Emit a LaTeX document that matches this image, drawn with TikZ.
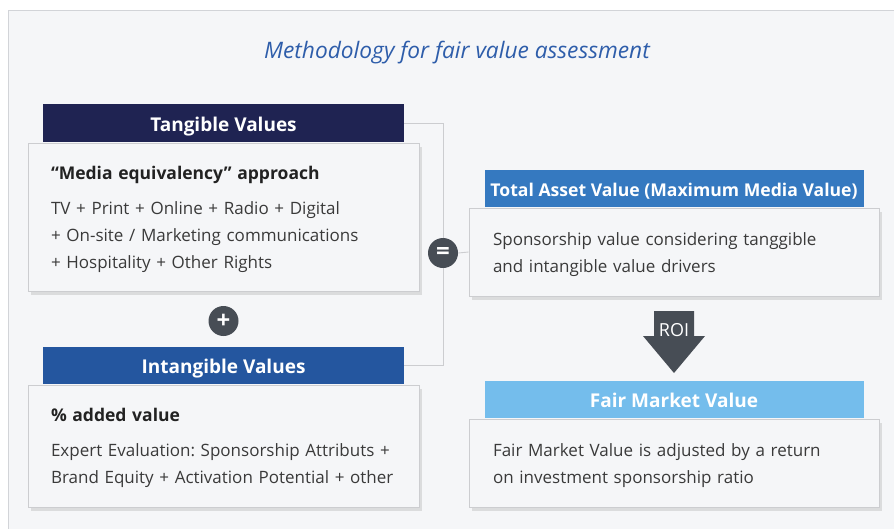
\documentclass[tikz,border=0pt]{standalone}
\usepackage{fontspec}
\setmainfont{Open Sans}
\usetikzlibrary{positioning,shadows}

\definecolor{framefill}{HTML}{F5F6F8}
\definecolor{frameline}{HTML}{D2D4D8}
\definecolor{titleblue}{HTML}{2E5DAA}
\definecolor{navy}{HTML}{1F2352}
\definecolor{midblue}{HTML}{24569F}
\definecolor{brightblue}{HTML}{3579C0}
\definecolor{skyblue}{HTML}{74BDEC}
\definecolor{boxline}{HTML}{CCCDD0}
\definecolor{bodytext}{HTML}{3A3A3A}
\definecolor{headtext}{HTML}{222222}
\definecolor{signfill}{HTML}{474D55}

\newcommand{\topstrut}{\rule{0pt}{18pt}}
\newcommand{\boxhead}[1]{{\topstrut\bfseries\color{headtext}\fontsize{17.5}{27}\selectfont #1}}

\tikzset{
	panel/.style = {draw = boxline, fill = framefill, line width = 0.9pt,
		drop shadow = {shadow xshift = 2.5pt, shadow yshift = -3.5pt, opacity = 0.22},
		align = left, inner xsep = 23pt, inner ysep = 0pt,
		text = bodytext, font = \frenchspacing\fontsize{17}{27}\selectfont},
	header/.style = {fill = #1, text = white, inner sep = 0pt,
		text height = 16pt, text depth = 0pt,
		font = \bfseries\fontsize{19}{19}\selectfont},
	sign/.style = {circle, fill = signfill, text = white, minimum size = 30pt,
		inner sep = 0pt, font = \bfseries\fontsize{24}{24}\selectfont},
	link/.style = {draw = boxline, line width = 0.9pt},
}

\begin{document}
\begin{tikzpicture}[x = 1pt, y = -1pt]
	\useasboundingbox (0, 0) rectangle (894, 528) ;
	\draw [fill = framefill, draw = frameline, line width = 1pt] (8, 10) rectangle (910, 545) ;

	\node [text = titleblue, font = \itshape\fontsize{22.7}{22.7}\selectfont] (title) at (457, 53) {Methodology for fair value assessment} ;

	% left column
	\node [panel, text width = 345pt, minimum width = 391pt, minimum height = 148pt] (tangbox) at (223.5, 217)
		{\boxhead{“Media equivalency” approach}\\[8pt]
		TV + Print + Online + Radio + Digital\\
		+ On-site / Marketing communications\\
		+ Hospitality + Other Rights} ;
	\node [header = navy, minimum width = 361pt, minimum height = 38pt, above = 0pt of tangbox] (tang) {Tangible Values} ;

	\node [panel, text width = 345pt, minimum width = 391pt, minimum height = 122pt] (intangbox) at (223.5, 446)
		{\boxhead{\% added value}\\[8pt]
		Expert Evaluation: Sponsorship Attributs +\\
		Brand Equity + Activation Potential + other} ;
	\node [header = midblue, minimum width = 361pt, minimum height = 37pt, above = 0pt of intangbox] (intang) {Intangible Values} ;

	\node [sign] (plus) at (223.5, 321) {+} ;

	% right column
	\node [panel, text width = 362pt, minimum width = 410pt, minimum height = 88pt] (totalbox) at (674, 252)
		{\topstrut Sponsorship value considering tanggible\\
		and intangible value drivers} ;
	\node [header = brightblue, minimum width = 379pt, minimum height = 37pt, above = 0pt of totalbox,
		font = \bfseries\fontsize{17.6}{17.6}\selectfont] (total) {Total Asset Value (Maximum Media Value)} ;

	\node [panel, text width = 362pt, minimum width = 410pt, minimum height = 88pt] (fairbox) at (674, 463)
		{\topstrut Fair Market Value is adjusted by a return\\
		on investment sponsorship ratio} ;
	\node [header = skyblue, minimum width = 379pt, minimum height = 37pt, above = 0pt of fairbox] (fair) {Fair Market Value} ;

	% bracket and equals
	\node [sign] (eq) at (443, 253) {=} ;
	\draw [link] (tang.east) -| (eq.north) ;
	\draw [link] (eq.south) |- (intang.east) ;
	\draw [link] (eq.east) -- (totalbox.west) ;

	% ROI arrow
	\fill [signfill] (654, 311) -- (694, 311) -- (694, 336) -- (705, 336) -- (674, 373) -- (643, 336) -- (654, 336) -- cycle ;
	\node [text = white, font = \fontsize{18}{18}\selectfont] (roi) at (674, 330) {ROI} ;

\end{tikzpicture}
\end{document}
